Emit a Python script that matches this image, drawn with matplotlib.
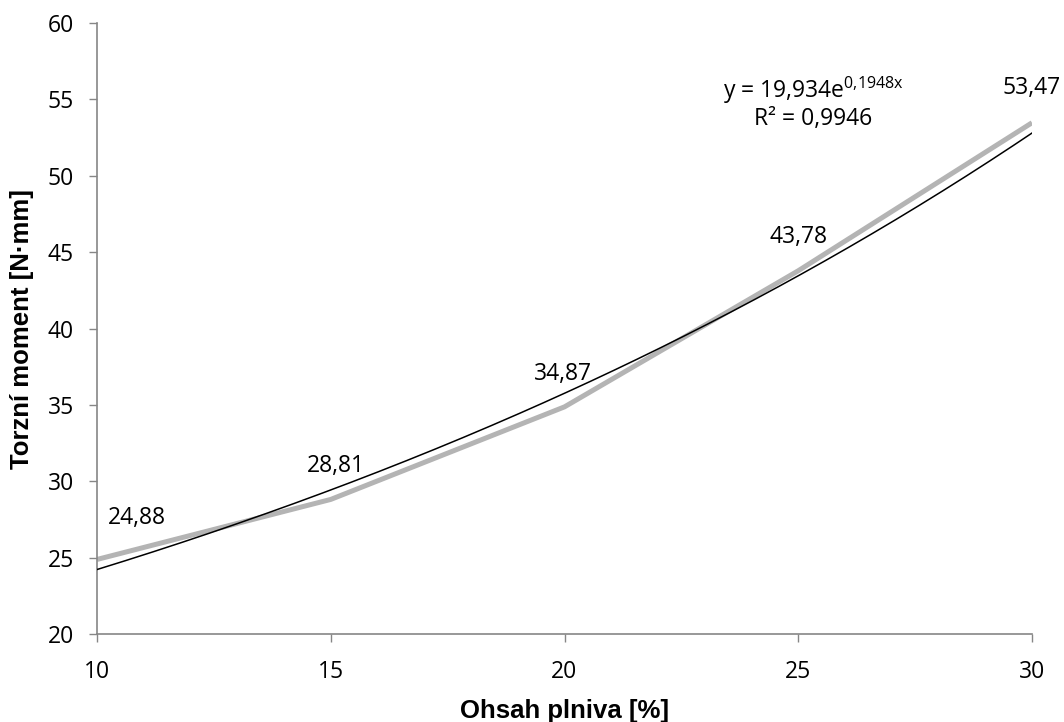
import numpy as np
import matplotlib
matplotlib.use("Agg")
import matplotlib.pyplot as plt

# ---- data ----
filler = [10, 15, 20, 25, 30]
torque = [24.88, 28.81, 34.87, 43.78, 53.47]
labels = ["24,88", "28,81", "34,87", "43,78", "53,47"]
x_ticks = [10, 15, 20, 25, 30]
y_ticks = [20, 25, 30, 35, 40, 45, 50, 55, 60]
# exponential trendline shown on the chart: y = a*exp(b*i), i = point index 1..5
trend_a = 19.934
trend_b = 0.1948
eq_line1 = r"y = 19,934e$^{\mathregular{0{,}1948x}}$"
eq_line2 = "R² = 0,9946"
xlabel = "Ohsah plniva [%]"
ylabel = "Torzní moment [N·mm]"

plt.rcParams['font.family'] = ['Open Sans', 'DejaVu Sans']
plt.rcParams['mathtext.fontset'] = 'custom'
plt.rcParams['mathtext.rm'] = 'Open Sans'

fig = plt.figure(figsize=(10.64, 7.22), dpi=100)
ax = fig.add_axes([97/1064, 1-634/722, (1032-97)/1064, (634-23)/722])

ax.plot(filler, torque, color='#B4B4B4', lw=3.6, solid_capstyle='butt', zorder=2)

xs = np.linspace(filler[0], filler[-1], 200)
idx = (xs - filler[0]) / (filler[1] - filler[0]) + 1
ax.plot(xs, trend_a * np.exp(trend_b * idx), color='black', lw=1.1, zorder=3)

FS = 16.5
offsets = [(29, 30), (4, 24), (-1, 24), (0, 24), (0, 25)]
for x, y, lab, off in zip(filler, torque, labels, offsets):
    ax.annotate(lab, (x, y), xytext=off, textcoords='offset points',
                ha='center', va='center', fontsize=FS, color='black',
                annotation_clip=False)

ax.text(25.32, 55.61, eq_line1, ha='center', va='center', fontsize=FS)
ax.text(25.32, 53.71, eq_line2, ha='center', va='center', fontsize=FS)

ax.set_xlim(10, 30)
ax.set_ylim(20, 60)
ax.set_xticks(x_ticks)
ax.set_yticks(y_ticks)
ax.set_xticklabels([str(v) for v in x_ticks])
ax.set_yticklabels([str(v) for v in y_ticks])

for s in ['top', 'right']:
    ax.spines[s].set_visible(False)
for s in ['left', 'bottom']:
    ax.spines[s].set_color('#868686')
    ax.spines[s].set_linewidth(1.2)
ax.tick_params(axis='both', direction='out', length=5.5, width=1.0,
               color='#868686', labelsize=FS, labelcolor='black')
ax.tick_params(axis='y', pad=11)
ax.tick_params(axis='x', pad=13)

ax.set_xlabel(xlabel, fontfamily='Liberation Sans', fontweight='bold',
              fontsize=18.5, labelpad=11)
ax.set_ylabel(ylabel, fontfamily='Liberation Sans', fontweight='bold',
              fontsize=18.5, labelpad=10)

fig.savefig('out.png', dpi=100)
